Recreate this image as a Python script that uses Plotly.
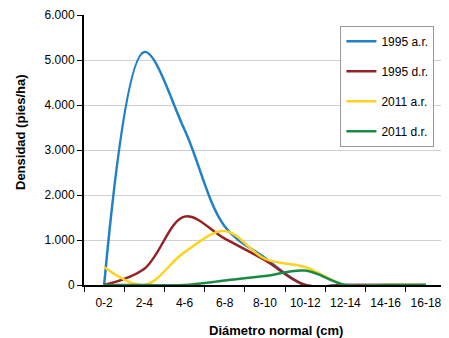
import plotly.graph_objects as go

categories = ["0-2", "2-4", "4-6", "6-8", "8-10", "10-12", "12-14", "14-16", "16-18"]
s1995_ar = [0, 5180, 3450, 1300, 600, 0, 0, 0, 0]
s1995_dr = [0, 360, 1520, 1030, 550, 0, 0, 0, 0]
s2011_ar = [400, 0, 730, 1200, 580, 400, 0, 0, 0]
s2011_dr = [0, 0, 0, 100, 200, 320, 0, 0, 0]
series = [
    ("1995 a.r.", s1995_ar, "#2080c8"),
    ("1995 d.r.", s1995_dr, "#952323"),
    ("2011 a.r.", s2011_ar, "#ffd21f"),
    ("2011 d.r.", s2011_dr, "#1b8a45"),
]

fig = go.Figure()
for i, (name, vals, col) in enumerate(series):
    fig.add_trace(go.Scatter(
        x=categories, y=vals, name=name, mode="lines",
        line=dict(color=col, width=2.5, shape="spline", smoothing=1.0),
        legendgroup=str(i),
    ))

font = "Liberation Sans, Arial, sans-serif"
# page body has an 8px margin, so the figure is sized/offset to compensate
fig.update_layout(
    width=441, height=330,
    margin=dict(l=76, r=3, t=7, b=53),
    paper_bgcolor="white", plot_bgcolor="white",
    separators=",.",
    font=dict(family=font, size=12, color="#000"),
    showlegend=True,
    legend=dict(
        x=0.968, y=0.96, xanchor="right", yanchor="top",
        bordercolor="#999", borderwidth=1, bgcolor="white",
        font=dict(size=12), tracegroupgap=11, itemwidth=30,
    ),
    xaxis=dict(
        type="category", range=[-0.5, 8.5], automargin=False,
        showline=True, linecolor="#000", linewidth=2,
        ticks="outside", tickson="boundaries", ticklen=5, tickcolor="#000",
        ticklabelstandoff=6,
        showgrid=False,
    ),
    yaxis=dict(
        range=[0, 6000.5], tickvals=[0, 1000, 2000, 3000, 4000, 5000, 6000],
        tickformat=",d", automargin=False, ticklabeloverflow="allow",
        showline=True, linecolor="#000", linewidth=2,
        ticks="outside", ticklen=5, tickcolor="#000",
        showgrid=True, gridcolor="#d0d0d0", gridwidth=1,
        zeroline=False,
    ),
    annotations=[
        dict(text="<b>Diámetro normal (cm)</b>", xref="paper", yref="paper",
             x=(276 - 84) / 362, y=(285 - 330) / 270, xanchor="center", yanchor="middle",
             showarrow=False, font=dict(size=13)),
        dict(text="<b>Densidad (pies/ha)</b>", xref="paper", yref="paper",
             x=(20 - 84) / 362, y=(285 - 132) / 270, xanchor="center", yanchor="middle",
             textangle=-90, showarrow=False, font=dict(size=13)),
    ],
)
fig.write_html("out.html")
